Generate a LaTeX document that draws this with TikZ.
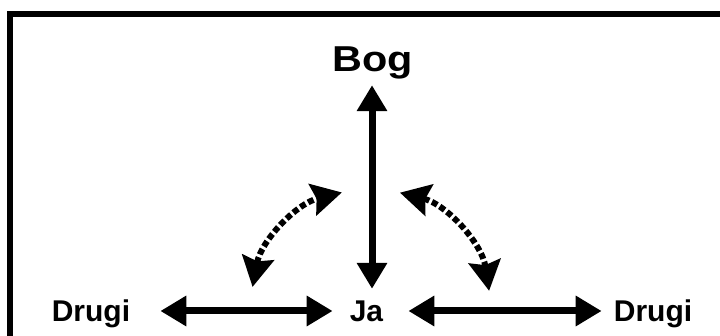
\documentclass[tikz,border=0pt]{standalone}
\usepackage{fontspec}
\setmainfont{Liberation Sans}
\usetikzlibrary{arrows.meta,calc}
\begin{document}
\begin{tikzpicture}[x=1pt,y=1pt,
  lbl/.style={font=\bfseries\fontsize{30}{30}\selectfont, inner sep=0pt, text height=21.5pt, text depth=0pt},
  biglbl/.style={font=\bfseries\fontsize{36}{36}\selectfont, inner sep=0pt, text height=26pt, text depth=0pt},
  solidarr/.style={line width=7pt, {Triangle[length=26pt,width=29pt]}-{Triangle[length=26pt,width=29pt]}},
  dotarr/.style={line width=6pt, dash pattern=on 6pt off 3pt, {Stealth[length=30pt,width=32pt,inset=4pt]}-{Stealth[length=30pt,width=32pt,inset=4pt]}},
  framebox/.style={line width=6pt}]
\useasboundingbox (0,0) rectangle (720,-336);
\clip (0,0) rectangle (720,-336);
\fill[white] (0,0) rectangle (720,-336);
\draw[framebox] (10,-14) rectangle (760,-380);
\node[biglbl] (bog) at (373,-59) {\scalebox{1.15}[1]{Bog}};
\node[lbl] (ja) at (366.5,-311) {Ja};
\node[lbl] (dl) at (91,-311) {Drugi};
\node[lbl] (dr) at (653,-311) {Drugi};
\coordinate (c) at (370.5,-309);
\draw[solidarr] ([xshift=-1pt,yshift=-13pt]bog.south) -- ([xshift=5.5pt,yshift=11.25pt]ja.north);
\draw[solidarr] ([xshift=30pt]dl.east) -- ([xshift=-17pt]ja.west);
\draw[solidarr] ([xshift=25pt]ja.east) -- ([xshift=-12pt]dr.west);
\draw[dotarr] ($(c)+(169.4:120)$) arc[start angle=169.4,end angle=103.8,radius=120];
\draw[dotarr] ($(c)+(75.8:120)$) arc[start angle=75.8,end angle=8.7,radius=120];
\end{tikzpicture}
\end{document}
